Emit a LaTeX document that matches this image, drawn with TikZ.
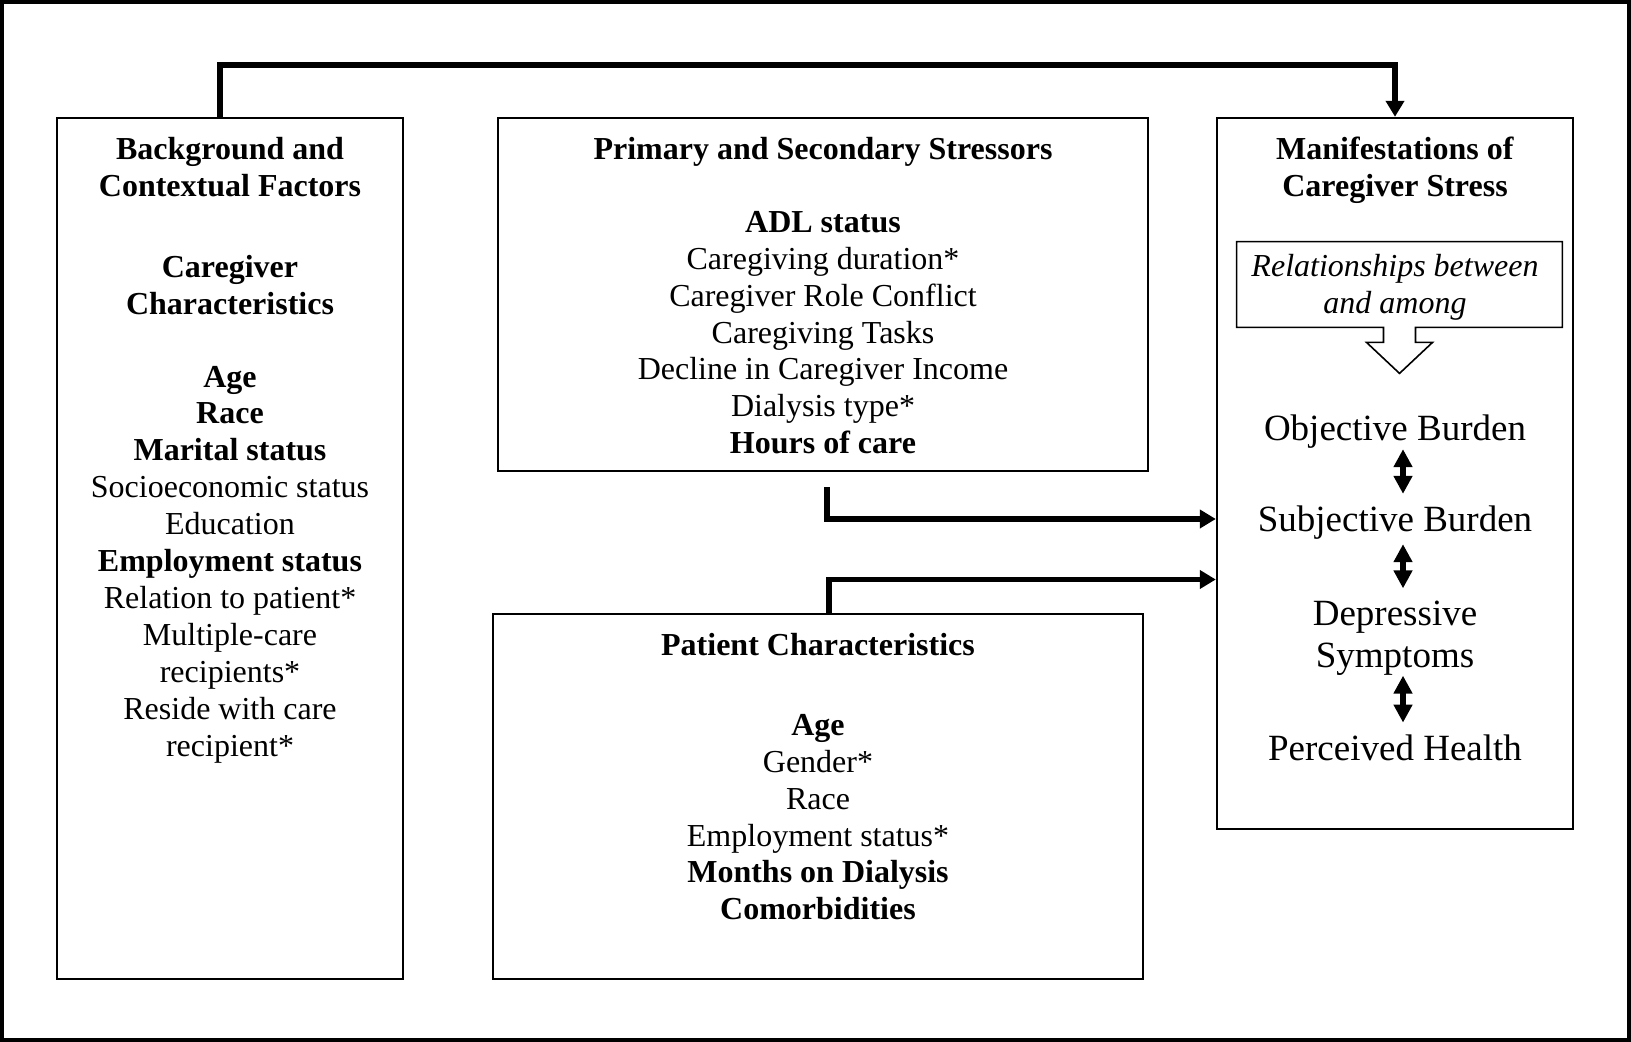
\documentclass[tikz,border=0pt]{standalone}
\usepackage{fontspec}
\setmainfont{Liberation Serif}
\usepackage{tikz}
\usetikzlibrary{positioning,arrows.meta}

\begin{document}
\begin{tikzpicture}[x=0.5pt,y=-0.5pt,
  box/.style={draw,line width=1.2pt,inner sep=0pt},
  boxtext/.style={align=center,inner sep=0pt,font=\fontsize{16}{18.45}\selectfont},
  item/.style={align=center,inner sep=0pt,font=\fontsize{18.5}{21}\selectfont},
  flow/.style={line width=2.8pt,-{Triangle[width=9pt,length=8pt]}},
  both/.style={line width=3pt,{Triangle[width=9pt,length=9pt]}-{Triangle[width=9pt,length=9pt]}}]
  \useasboundingbox (0,0) rectangle (1631,1042);
  \draw[line width=2pt] (2,2) rectangle (1629,1040);

  \node[box,minimum width=173pt,minimum height=430.5pt] (bg) at (230,548.5) {};
  \node[boxtext,below=10pt of bg.north] (bgtext) {\textbf{Background and}\\
    \textbf{Contextual Factors}\\[22pt]
    \textbf{Caregiver}\\
    \textbf{Characteristics}\\[18pt]
    \textbf{Age}\\
    \textbf{Race}\\
    \textbf{Marital status}\\
    Socioeconomic status\\
    Education\\
    \textbf{Employment status}\\
    Relation to patient*\\
    Multiple-care\\
    recipients*\\
    Reside with care\\
    recipient*};

  \node[box,minimum width=325pt,minimum height=176.5pt] (ps) at (823,294.5) {};
  \node[boxtext,below=10pt of ps.north] (pstext) {\textbf{Primary and Secondary Stressors}\\[18pt]
    \textbf{ADL status}\\
    Caregiving duration*\\
    Caregiver Role Conflict\\
    Caregiving Tasks\\
    Decline in Caregiver Income\\
    Dialysis type*\\
    \textbf{Hours of care}};

  \node[box,minimum width=325pt,minimum height=182.5pt] (pc) at (818,796.5) {};
  \node[boxtext,below=10pt of pc.north] (pctext) {\textbf{Patient Characteristics}\\[21.5pt]
    \textbf{Age}\\
    Gender*\\
    Race\\
    Employment status*\\
    \textbf{Months on Dialysis}\\
    \textbf{Comorbidities}};

  \node[box,minimum width=178pt,minimum height=355.5pt] (mf) at (1395,473.5) {};
  \node[boxtext,below=10pt of mf.north] (mftext) {\textbf{Manifestations of}\\
    \textbf{Caregiver Stress}};
  \node[inner sep=0pt,minimum width=162.5pt,minimum height=42.5pt] (rel) at (1399.5,284.5) {};
  \node[boxtext,font=\fontsize{16}{18.5}\selectfont\itshape] (reltext) at (1395,287) {Relationships between\\and among};
  \draw[line width=0.8pt] (rel.south west) -- (rel.north west) -- (rel.north east) -- (rel.south east)
    -- ([xshift=8pt]rel.south) -- ([xshift=8pt,yshift=-7.5pt]rel.south)
    -- ([xshift=16.5pt,yshift=-7.5pt]rel.south) -- ([yshift=-23pt]rel.south)
    -- ([xshift=-16.5pt,yshift=-7.5pt]rel.south) -- ([xshift=-8pt,yshift=-7.5pt]rel.south)
    -- ([xshift=-8pt]rel.south) -- cycle;

  \node[item] (ob) at (1395,432) {Objective Burden};
  \node[item] (sb) at (1395,523) {Subjective Burden};
  \node[item] (ds) at (1395,638) {Depressive\\Symptoms};
  \node[item] (ph) at (1395,748) {Perceived Health};

  \draw[both,shorten >=6pt] ([xshift=4pt]ob.south) -- ([xshift=4pt]sb.north);
  \draw[both,shorten <=2pt,shorten >=6pt] ([xshift=4pt]sb.south) -- ([xshift=4pt]ds.north);
  \draw[both,shorten >=6pt] ([xshift=4pt]ds.south) -- ([xshift=4pt]ph.north);

  \draw[flow] ([xshift=-5pt]bg.north) |- ([yshift=26pt]mf.north) -- (mf.north);
  \draw[flow] ([xshift=2pt,yshift=-7.5pt]ps.south) |- ([yshift=-22.75pt]mf.west);
  \draw[flow] ([xshift=5.5pt]pc.north) |- ([yshift=-53pt]mf.west);
\end{tikzpicture}
\end{document}
